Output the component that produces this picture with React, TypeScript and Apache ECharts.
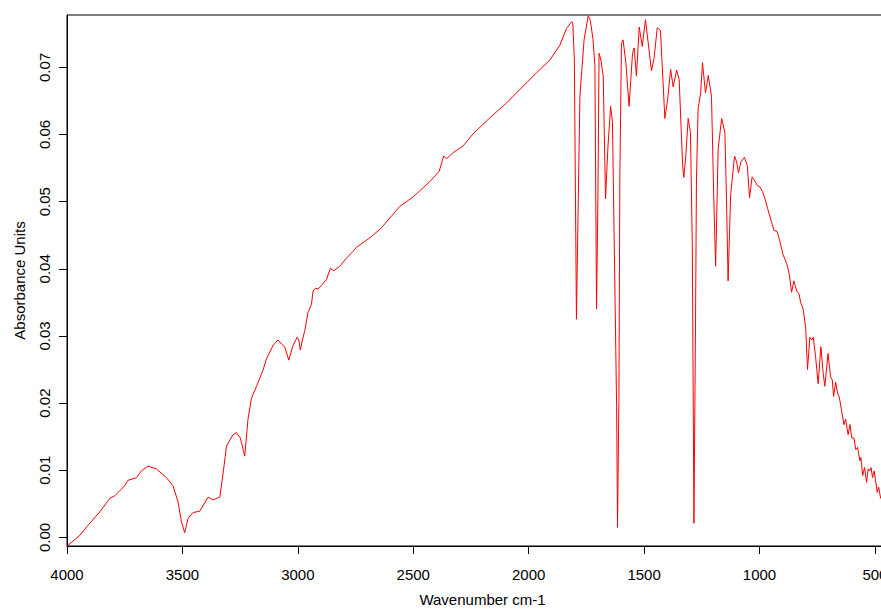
import React, { useEffect, useRef } from "react";
import * as echarts from "echarts";

// Wavenumber (cm-1)
const wavenumbers = [
  4000, 3945, 3909, 3858, 3815, 3793, 3750, 3736, 3699, 3678,
  3649, 3613, 3569, 3541, 3519, 3504, 3490, 3476, 3454, 3425,
  3389, 3367, 3338, 3327, 3309, 3281, 3266, 3249, 3230, 3216,
  3201, 3179, 3151, 3136, 3107, 3086, 3071, 3057, 3039, 3021,
  3003, 2996, 2989, 2982, 2970, 2956, 2941, 2934, 2924, 2912,
  2898, 2876, 2859, 2844, 2818, 2789, 2761, 2746, 2681, 2638,
  2558, 2501, 2428, 2388, 2368, 2356, 2327, 2284, 2241, 2168,
  2096, 2024, 1966, 1908, 1865, 1836, 1814, 1809, 1802, 1793,
  1785, 1778, 1760, 1742, 1733, 1721, 1713, 1706, 1700, 1695,
  1687, 1677, 1667, 1657, 1645, 1637, 1629, 1619, 1615, 1609,
  1605, 1598, 1591, 1579, 1565, 1550, 1543, 1533, 1521, 1508,
  1494, 1482, 1468, 1457, 1443, 1429, 1410, 1398, 1385, 1374,
  1359, 1348, 1333, 1328, 1319, 1309, 1299, 1291, 1284, 1278,
  1273, 1266, 1255, 1247, 1234, 1222, 1208, 1198, 1190, 1179,
  1164, 1150, 1143, 1136, 1125, 1118, 1108, 1099, 1091, 1081,
  1065, 1053, 1043, 1032, 1020, 1010, 998, 987, 977, 965,
  948, 937, 924, 912, 898, 883, 878, 871, 861, 851,
  839, 828, 822, 811, 800, 792, 782, 774, 767, 757,
  746, 734, 724, 717, 703, 692, 685, 679, 670, 662,
  655, 645, 634, 627, 616, 608, 600, 591, 583, 575,
  565, 561, 553, 545, 536, 529, 522, 517, 510, 503,
  490, 484, 475,
];

// Absorbance units at each wavenumber above
const absorbance = [
  -0.0013, 0.0003, 0.0018, 0.0038, 0.0058, 0.0062, 0.0077, 0.0085, 0.0089, 0.0099,
  0.0106, 0.0102, 0.0089, 0.0077, 0.0053, 0.0023, 0.0007, 0.0028, 0.0037, 0.0039,
  0.006, 0.0056, 0.006, 0.0087, 0.0136, 0.0153, 0.0156, 0.0148, 0.0121, 0.0176,
  0.0207, 0.0225, 0.0249, 0.0266, 0.0286, 0.0294, 0.0288, 0.0284, 0.0264, 0.0286,
  0.0298, 0.0294, 0.0279, 0.0291, 0.0308, 0.0335, 0.0347, 0.0367, 0.0371, 0.037,
  0.0375, 0.0384, 0.0401, 0.0397, 0.0404, 0.0416, 0.0426, 0.0432, 0.0448, 0.0461,
  0.0493, 0.0507, 0.053, 0.0545, 0.0568, 0.0564, 0.0573, 0.0583, 0.0601, 0.0625,
  0.0647, 0.0672, 0.0692, 0.0711, 0.0733, 0.0758, 0.0768, 0.0766, 0.0711, 0.0325,
  0.0505, 0.0657, 0.0741, 0.0777, 0.077, 0.0741, 0.0701, 0.034, 0.0505, 0.0721,
  0.0711, 0.0687, 0.0504, 0.0579, 0.0642, 0.0618, 0.0431, 0.0195, 0.0015, 0.021,
  0.0535, 0.0736, 0.0741, 0.0707, 0.0642, 0.0721, 0.0729, 0.0687, 0.076, 0.0731,
  0.0771, 0.0736, 0.0695, 0.0713, 0.0759, 0.0755, 0.0624, 0.0652, 0.0697, 0.0671,
  0.0696, 0.0682, 0.0554, 0.0536, 0.0569, 0.0624, 0.0603, 0.0431, 0.0021, 0.0284,
  0.0534, 0.0638, 0.0662, 0.0707, 0.0662, 0.0688, 0.0657, 0.0505, 0.0404, 0.0579,
  0.0624, 0.0603, 0.0505, 0.0382, 0.051, 0.0534, 0.0568, 0.0559, 0.0543, 0.0559,
  0.0566, 0.0554, 0.0506, 0.0537, 0.0531, 0.0524, 0.0522, 0.0515, 0.0505, 0.049,
  0.047, 0.0457, 0.0456, 0.0441, 0.0421, 0.0409, 0.0402, 0.0392, 0.0365, 0.0382,
  0.0367, 0.0362, 0.035, 0.034, 0.0313, 0.025, 0.0298, 0.0294, 0.0298, 0.0269,
  0.0229, 0.0284, 0.0244, 0.0225, 0.0274, 0.0239, 0.0235, 0.021, 0.0231, 0.0215,
  0.021, 0.019, 0.0168, 0.0176, 0.0153, 0.0168, 0.0148, 0.0148, 0.0131, 0.0134,
  0.0114, 0.0119, 0.0092, 0.0104, 0.0082, 0.0102, 0.0099, 0.0104, 0.0089, 0.0099,
  0.0067, 0.0075, 0.0058,
];

const xTicks = [4000, 3500, 3000, 2500, 2000, 1500, 1000, 500];
const yTicks = [0, 0.01, 0.02, 0.03, 0.04, 0.05, 0.06, 0.07];
const xAxisTitle = "Wavenumber cm-1";
const yAxisTitle = "Absorbance Units";

export default function App() {
  const ref = useRef<HTMLDivElement>(null);

  useEffect(() => {
    if (!ref.current) return;
    const chart = echarts.init(ref.current, null, { renderer: "svg" });
    const font = "'Liberation Sans', Arial, sans-serif";
    const txt = { color: "#000", fontSize: 15, fontFamily: font };
    chart.setOption({
      animation: false,
      backgroundColor: "#ffffff",
      grid: {
        left: 67,
        top: 15,
        width: 831,
        height: 536,
        show: true,
        borderColor: "#000",
        borderWidth: 1,
        backgroundColor: "transparent",
      },
      xAxis: {
        type: "value",
        inverse: true,
        min: 400,
        max: 4000,
        axisLine: { show: true, onZero: false, lineStyle: { color: "#000", width: 1 } },
        axisTick: { show: true, length: 8, customValues: xTicks, lineStyle: { color: "#000" } },
        axisLabel: {
          ...txt,
          customValues: xTicks,
          margin: 21,
          formatter: (v: number) => String(v),
        },
        splitLine: { show: false },
        name: xAxisTitle,
        nameLocation: "middle",
        nameGap: 46,
        nameTextStyle: txt,
      },
      yAxis: {
        type: "value",
        min: -0.00128,
        max: 0.0778,
        axisLine: { show: true, onZero: false, lineStyle: { color: "#000", width: 1 } },
        axisTick: { show: true, length: 8, customValues: yTicks, lineStyle: { color: "#000" } },
        axisLabel: {
          ...txt,
          customValues: yTicks,
          rotate: 90,
          margin: 15,
          formatter: (v: number) => v.toFixed(2),
        },
        splitLine: { show: false },
        name: yAxisTitle,
        nameLocation: "middle",
        nameRotate: 90,
        nameGap: 40,
        nameTextStyle: txt,
      },
      series: [
        {
          type: "line",
          data: wavenumbers.map((w, i) => [w, absorbance[i]]),
          showSymbol: false,
          smooth: false,
          clip: true,
          lineStyle: { color: "#ff0000", width: 1 },
          itemStyle: { color: "#ff0000" },
        },
      ],
    });
    return () => chart.dispose();
  }, []);

  return (
    <div
      style={{
        position: "fixed",
        left: 0,
        top: 0,
        width: 881,
        height: 612,
        overflow: "hidden",
        background: "#fff",
      }}
    >
      <div ref={ref} style={{ width: 930, height: 612 }} />
    </div>
  );
}
